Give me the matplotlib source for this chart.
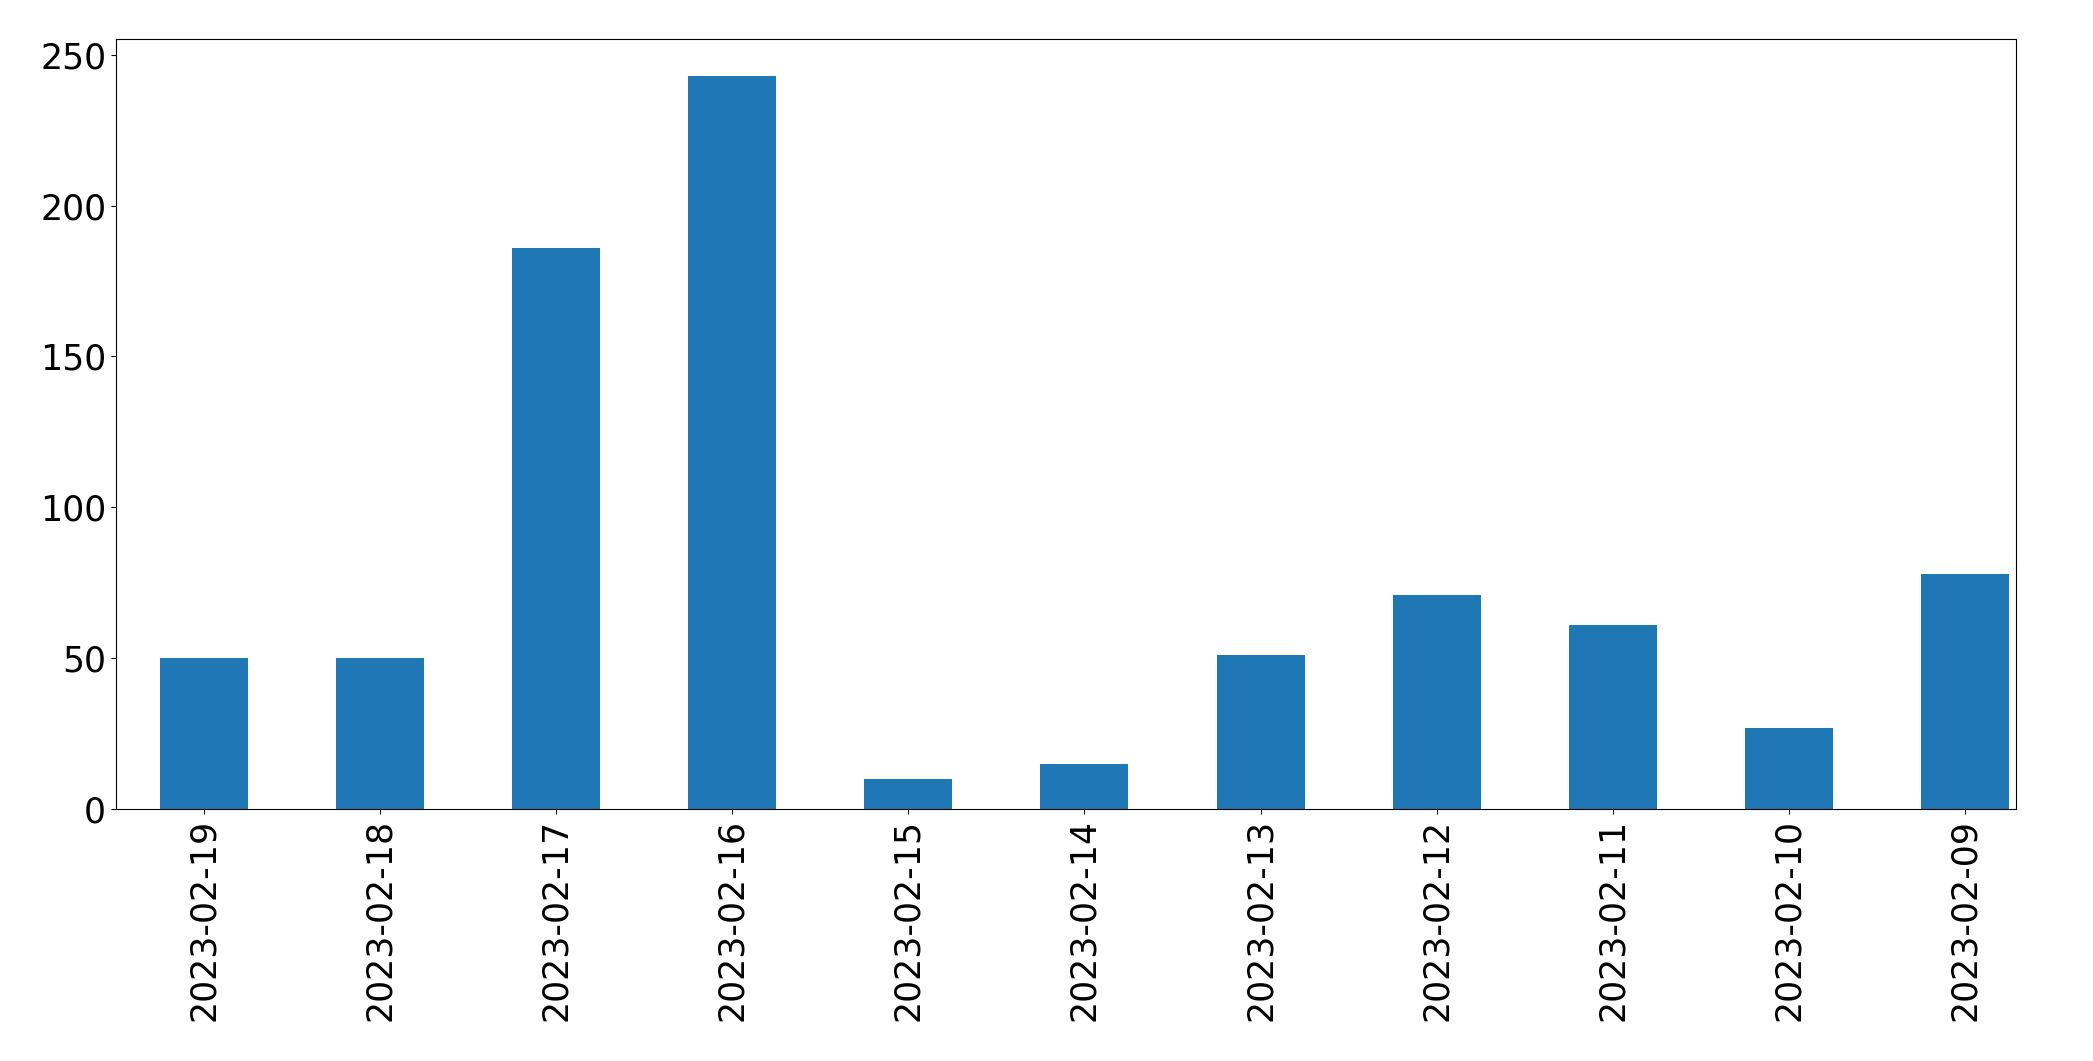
import pandas as pd
import matplotlib
matplotlib.use("Agg")
import matplotlib.pyplot as plt

DATES = ["2023-02-19", "2023-02-18", "2023-02-17", "2023-02-16", "2023-02-15",
         "2023-02-14", "2023-02-13", "2023-02-12", "2023-02-11", "2023-02-10",
         "2023-02-09"]
COUNTS = [50, 50, 186, 243, 10, 15, 51, 71, 61, 27, 78]

counts = pd.Series(COUNTS, index=DATES)

fig = plt.figure(figsize=(20.93, 10.61), dpi=100)
ax = fig.add_axes([0.0554, 0.2375, 0.9078, 0.7255])
counts.plot(kind="bar", ax=ax, fontsize=25, color="#1f77b4")
# the right edge sits close to the last bar
ax.set_xlim(-0.5, len(COUNTS) - 0.71)

plt.savefig("out.png", dpi=100)
